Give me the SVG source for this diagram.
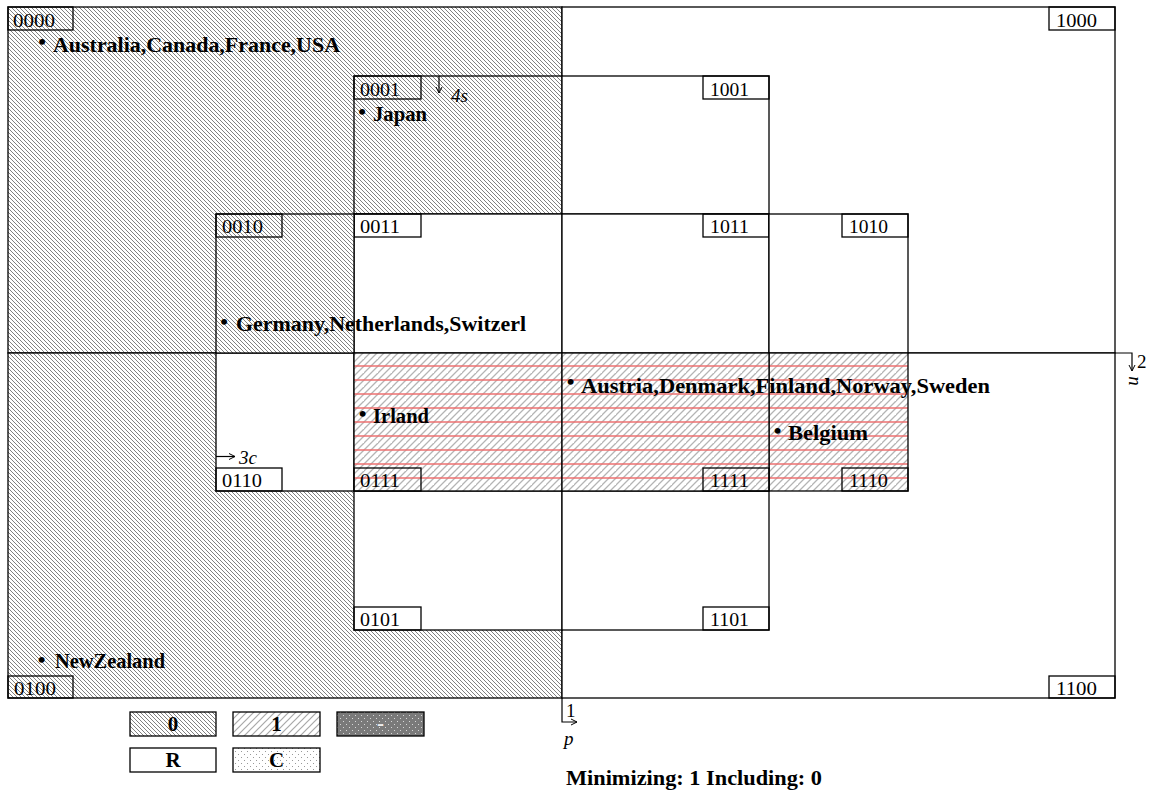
<svg xmlns="http://www.w3.org/2000/svg" width="1154" height="798" viewBox="0 0 1154 798">
<defs>
<style>
.cell{stroke:#000;stroke-width:1.3}
.lab{fill:none;stroke:#000;stroke-width:1.3}
.code{font-family:"Liberation Serif",serif;font-size:18px;fill:#000}
.cty{font-family:"Liberation Serif",serif;font-size:21px;font-weight:bold;fill:#000}
.bul{font-size:22px}
.var{font-family:"Liberation Serif",serif;font-size:19px;fill:#000}
.it{font-style:italic}
.leg{font-family:"Liberation Serif",serif;font-weight:bold;font-size:21px;text-anchor:middle;fill:#000}
.con{fill:none;stroke:#000;stroke-width:1.2}
</style>
<pattern id="p0" patternUnits="userSpaceOnUse" width="4" height="4">
<rect width="4" height="4" fill="#fff"/>
<path d="M-1,-1L5,5M-1,3L1,5M3,-1L5,1" stroke="#4a4a4a" stroke-width="0.7"/>
</pattern>
<pattern id="p1" patternUnits="userSpaceOnUse" x="0" y="359" width="14" height="14">
<rect width="14" height="14" fill="#fff"/>
<path d="M-1,1L1,-1M-1,8L8,-1M-1,15L15,-1M6,15L15,6" stroke="#b4b4b4" stroke-width="1.3"/>
<path d="M0,7H14" stroke="#ee7070" stroke-width="1.5"/>
</pattern>
<pattern id="p1g" patternUnits="userSpaceOnUse" width="7" height="7">
<rect width="7" height="7" fill="#fff"/>
<path d="M-1,1L1,-1M-1,8L8,-1M6,8L8,6" stroke="#a8a8a8" stroke-width="1.2"/>
</pattern>
<pattern id="pd" patternUnits="userSpaceOnUse" width="6" height="6">
<rect width="6" height="6" fill="#7a7a7a"/>
<rect x="1" y="1" width="1" height="1" fill="#d8d8d8"/>
<rect x="4" y="4" width="1" height="1" fill="#d8d8d8"/>
</pattern>
<pattern id="pc" patternUnits="userSpaceOnUse" width="6" height="6">
<rect width="6" height="6" fill="#fff"/>
<rect x="1" y="1" width="1" height="1" fill="#999"/>
<rect x="4" y="4" width="1" height="1" fill="#999"/>
</pattern>
<marker id="ah" markerUnits="userSpaceOnUse" markerWidth="8" markerHeight="8" refX="7" refY="4" orient="auto">
<path d="M1,1L7,4L1,7" fill="none" stroke="#000" stroke-width="1"/>
</marker>
</defs>
<rect width="1154" height="798" fill="#fff"/>

<g id="cell-0000">
<rect class="cell" x="8" y="7" width="554" height="346" fill="url(#p0)"/>
<rect class="lab" x="8" y="7" width="65" height="23"/>
<text class="code" x="13" y="27" textLength="42" lengthAdjust="spacingAndGlyphs">0000</text>
<text class="cty"><tspan class="bul" x="38.2" y="49.1">•</tspan><tspan x="53" y="52" textLength="287" lengthAdjust="spacingAndGlyphs">Australia,Canada,France,USA</tspan></text>
</g>
<g id="cell-0100">
<rect class="cell" x="8" y="353" width="554" height="345" fill="url(#p0)"/>
<rect class="lab" x="8" y="676" width="65" height="22"/>
<text class="code" x="14" y="695" textLength="42" lengthAdjust="spacingAndGlyphs">0100</text>
<text class="cty"><tspan class="bul" x="37.7" y="666.6">•</tspan><tspan x="55" y="668" textLength="110" lengthAdjust="spacingAndGlyphs">NewZealand</tspan></text>
</g>
<g id="cell-1000">
<rect class="cell" x="562" y="7" width="553" height="346" fill="#fff"/>
<rect class="lab" x="1049" y="7" width="66" height="23"/>
<text class="code" x="1056" y="27" textLength="41" lengthAdjust="spacingAndGlyphs">1000</text>
</g>
<g id="cell-1100">
<rect class="cell" x="562" y="353" width="553" height="345" fill="#fff"/>
<rect class="lab" x="1049" y="676" width="66" height="22"/>
<text class="code" x="1056" y="695" textLength="41" lengthAdjust="spacingAndGlyphs">1100</text>
</g>
<g id="cell-0001">
<rect class="cell" x="354" y="76" width="208" height="138" fill="url(#p0)"/>
<rect class="lab" x="354" y="76" width="67" height="23"/>
<text class="code" x="360" y="96" textLength="40" lengthAdjust="spacingAndGlyphs">0001</text>
<text class="cty"><tspan class="bul" x="358.2" y="118.6">•</tspan><tspan x="373" y="121" textLength="54" lengthAdjust="spacingAndGlyphs">Japan</tspan></text>
</g>
<g id="cell-1001">
<rect class="cell" x="562" y="76" width="207" height="138" fill="#fff"/>
<rect class="lab" x="703" y="76" width="66" height="23"/>
<text class="code" x="710" y="96" textLength="39" lengthAdjust="spacingAndGlyphs">1001</text>
</g>
<g id="cell-0101">
<rect class="cell" x="354" y="491" width="208" height="139" fill="#fff"/>
<rect class="lab" x="354" y="607" width="67" height="23"/>
<text class="code" x="360" y="626" textLength="40" lengthAdjust="spacingAndGlyphs">0101</text>
</g>
<g id="cell-1101">
<rect class="cell" x="562" y="491" width="207" height="139" fill="#fff"/>
<rect class="lab" x="703" y="607" width="66" height="23"/>
<text class="code" x="710" y="626" textLength="39" lengthAdjust="spacingAndGlyphs">1101</text>
</g>
<g id="cell-0011">
<rect class="cell" x="354" y="214" width="208" height="139" fill="#fff"/>
<rect class="lab" x="354" y="214" width="67" height="23"/>
<text class="code" x="360" y="233" textLength="40" lengthAdjust="spacingAndGlyphs">0011</text>
</g>
<g id="cell-1011">
<rect class="cell" x="562" y="214" width="207" height="139" fill="#fff"/>
<rect class="lab" x="703" y="214" width="66" height="23"/>
<text class="code" x="710" y="233" textLength="39" lengthAdjust="spacingAndGlyphs">1011</text>
</g>
<g id="cell-1010">
<rect class="cell" x="769" y="214" width="139" height="139" fill="#fff"/>
<rect class="lab" x="842" y="214" width="66" height="23"/>
<text class="code" x="849" y="233" textLength="39" lengthAdjust="spacingAndGlyphs">1010</text>
</g>
<g id="cell-0110">
<rect class="cell" x="216" y="353" width="138" height="138" fill="#fff"/>
<rect class="lab" x="216" y="468" width="66" height="23"/>
<text class="code" x="222" y="487" textLength="40" lengthAdjust="spacingAndGlyphs">0110</text>
</g>
<g id="cell-0010">
<rect class="cell" x="216" y="214" width="138" height="139" fill="url(#p0)"/>
<rect class="lab" x="216" y="214" width="66" height="23"/>
<text class="code" x="222" y="233" textLength="41" lengthAdjust="spacingAndGlyphs">0010</text>
<text class="cty"><tspan class="bul" x="220.2" y="329.1">•</tspan><tspan x="236" y="331" textLength="290" lengthAdjust="spacingAndGlyphs">Germany,Netherlands,Switzerl</tspan></text>
</g>
<g id="cell-0111">
<rect class="cell" x="354" y="353" width="208" height="138" fill="url(#p1)"/>
<rect class="lab" x="354" y="468" width="67" height="23"/>
<text class="code" x="360" y="487" textLength="40" lengthAdjust="spacingAndGlyphs">0111</text>
<text class="cty"><tspan class="bul" x="358.7" y="420.6">•</tspan><tspan x="373" y="423" textLength="56" lengthAdjust="spacingAndGlyphs">Irland</tspan></text>
</g>
<g id="cell-1110">
<rect class="cell" x="769" y="353" width="139" height="138" fill="url(#p1)"/>
<rect class="lab" x="842" y="468" width="66" height="23"/>
<text class="code" x="849" y="487" textLength="39" lengthAdjust="spacingAndGlyphs">1110</text>
<text class="cty"><tspan class="bul" x="773.7" y="437.6">•</tspan><tspan x="788" y="440" textLength="80" lengthAdjust="spacingAndGlyphs">Belgium</tspan></text>
</g>
<g id="cell-1111">
<rect class="cell" x="562" y="353" width="207" height="138" fill="url(#p1)"/>
<rect class="lab" x="703" y="468" width="66" height="23"/>
<text class="code" x="710" y="487" textLength="39" lengthAdjust="spacingAndGlyphs">1111</text>
<text class="cty"><tspan class="bul" x="566.7" y="389.1">•</tspan><tspan x="581" y="393" textLength="409" lengthAdjust="spacingAndGlyphs">Austria,Denmark,Finland,Norway,Sweden</tspan></text>
</g>

<g id="connectors">
<path class="con" d="M562,698V722H577" marker-end="url(#ah)"/>
<path class="con" d="M1115,353H1132V371" marker-end="url(#ah)"/>
<path class="con" d="M439,76V93" marker-end="url(#ah)"/>
<path class="con" d="M216,456.5H235" marker-end="url(#ah)"/>
<text class="var" x="566" y="717">1</text>
<text class="var it" x="564" y="745">p</text>
<text class="var" x="1137" y="368">2</text>
<text class="var it" x="1135" y="381" transform="rotate(90 1135 381)" text-anchor="middle" dominant-baseline="central">n</text>
<text class="var it" x="451" y="102">4s</text>
<text class="var it" x="239" y="464">3c</text>
</g>

<g id="legend">
<rect class="cell" x="130" y="712" width="86" height="24" fill="url(#p0)"/>
<text class="leg" x="173" y="731">0</text>
<rect class="cell" x="233" y="712" width="87" height="24" fill="url(#p1g)"/>
<text class="leg" x="276.5" y="731">1</text>
<rect class="cell" x="337" y="712" width="87" height="24" fill="url(#pd)"/>
<text class="leg" x="380.5" y="730" style="fill:#eee">-</text>
<rect class="cell" x="130" y="748" width="86" height="24" fill="#fff"/>
<text class="leg" x="173" y="767">R</text>
<rect class="cell" x="233" y="748" width="87" height="24" fill="url(#pc)"/>
<text class="leg" x="276.5" y="767">C</text>
<text class="cty" x="566" y="785" textLength="256" lengthAdjust="spacingAndGlyphs">Minimizing: 1 Including: 0</text>
</g>
</svg>
